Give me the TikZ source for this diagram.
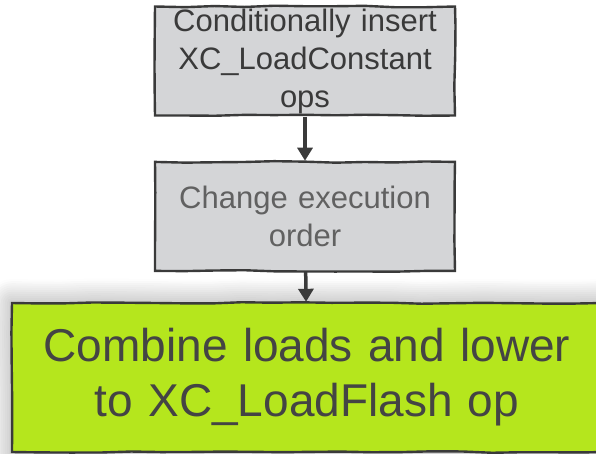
\documentclass[tikz,border=0pt]{standalone}
\usepackage{fontspec}
\setmainfont{Liberation Sans}
\usetikzlibrary{positioning,arrows.meta,decorations.pathmorphing,shadows.blur}
\definecolor{boxgray}{HTML}{D4D5D7}
\definecolor{lime}{HTML}{B5E61D}
\definecolor{ink}{HTML}{3A3A3A}
\tikzset{
  sketch/.style={draw=ink, line width=2.4pt, decorate,
    decoration={random steps, segment length=30pt, amplitude=0.8pt}},
  stepbox/.style={sketch, fill=boxgray, minimum width=300pt, minimum height=109pt,
    text width=290pt, align=center, inner sep=0pt,
    font=\fontsize{31}{38}\selectfont},
  flow/.style={-{Triangle[length=13pt,width=15pt]}, draw=ink, line width=3.5pt}
}

\begin{document}
\begin{tikzpicture}
  \useasboundingbox (0,0) rectangle (596pt,-453pt);
  % the three passes, top to bottom
  \node[stepbox, text=ink] (ins) at (305pt,-61pt)
    {Conditionally insert\\XC\_LoadConstant\\ops};
  \node[stepbox, text=ink!80, below=44pt of ins] (order)
    {Change execution\\order};
  \node[sketch, fill=lime, text=ink!95, minimum width=590pt, minimum height=149pt,
    text width=570pt, align=center, inner sep=0pt,
    font=\fontsize{46}{55}\selectfont,
    blur shadow={shadow xshift=0pt, shadow yshift=0pt, shadow blur radius=24pt,
      shadow opacity=40, shadow blur steps=12}]
    (combine) at (307pt,-377.5pt)
    {Combine loads and lower\\to XC\_LoadFlash op};
  \draw[flow] (ins) -- (order);
  \draw[flow] (order) -- (combine);
\end{tikzpicture}
\end{document}
